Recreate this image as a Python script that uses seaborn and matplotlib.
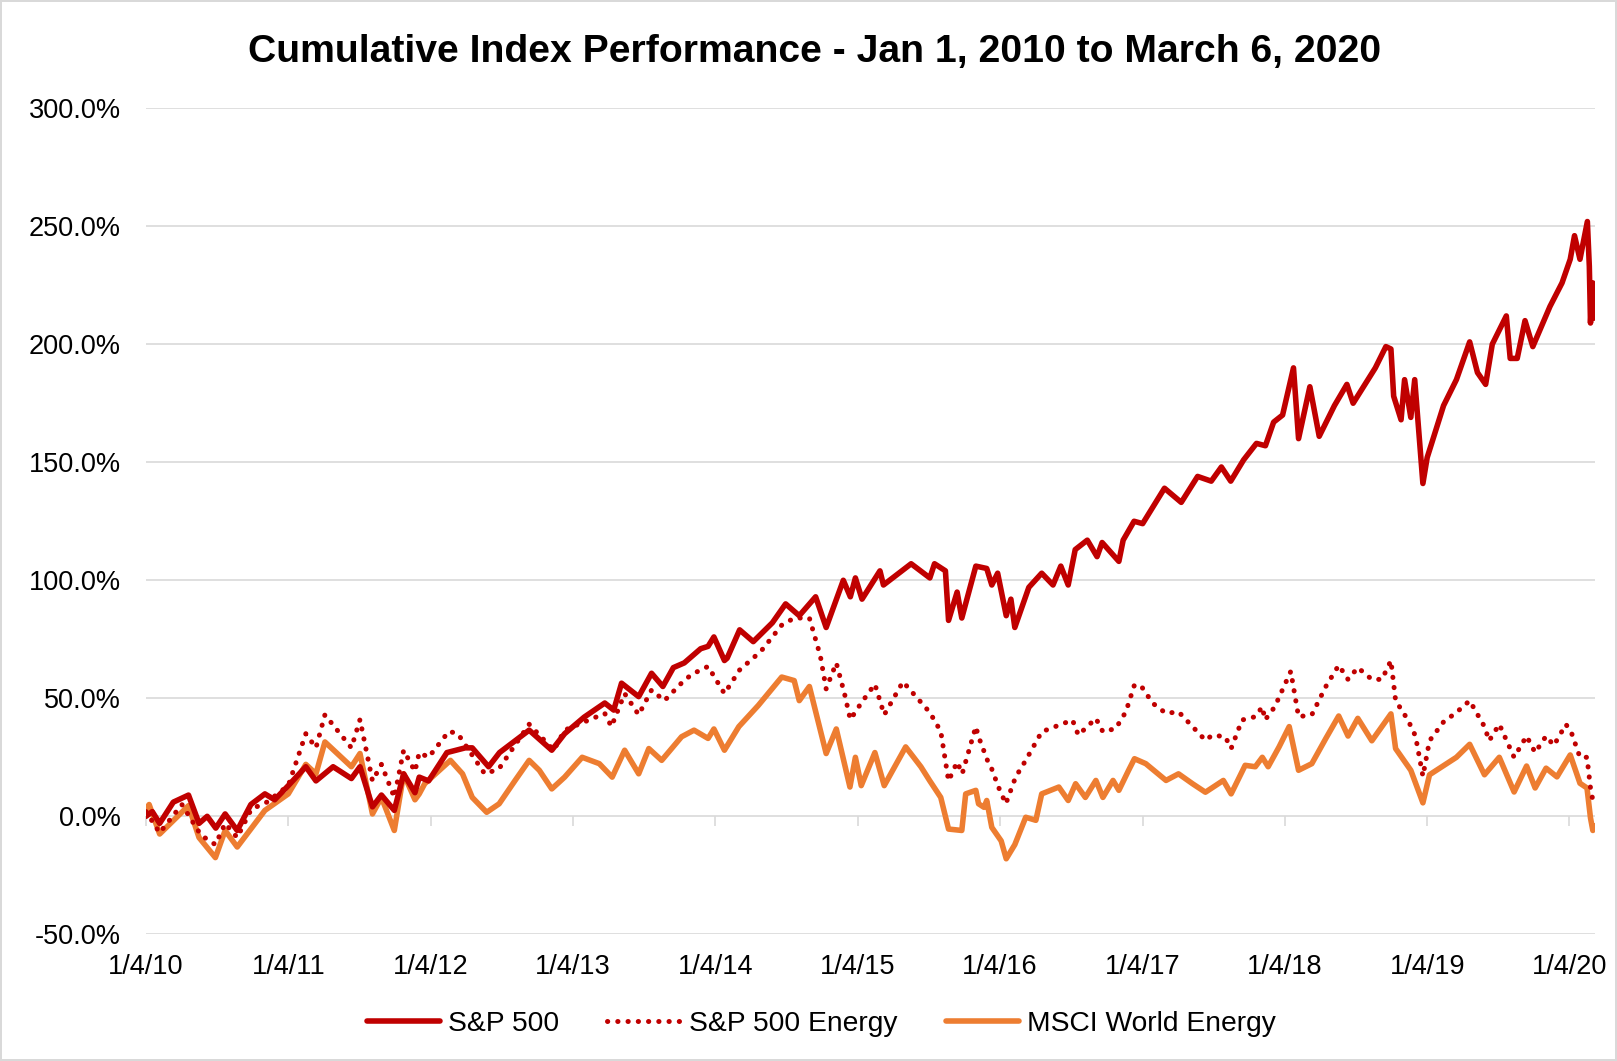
"""
Cumulative index performance, Jan 2010 - Mar 2020 (S&P 500 vs energy indices)
"""

import pandas as pd
import seaborn as sns
import matplotlib
import matplotlib.pyplot as plt
import matplotlib.dates as mdates

matplotlib.use("Agg")

# ---- data (cumulative return, %) ----
sp500_dates = [
    "2010-01-04", "2010-01-20", "2010-02-08", "2010-03-15", "2010-04-23", "2010-05-20",
    "2010-06-10", "2010-07-02", "2010-07-26", "2010-08-26", "2010-09-30", "2010-11-05",
    "2010-11-30", "2011-01-04", "2011-02-18", "2011-03-16", "2011-04-29", "2011-06-15",
    "2011-07-07", "2011-08-08", "2011-08-31", "2011-10-03", "2011-10-27", "2011-11-25",
    "2011-12-06", "2011-12-30", "2012-02-15", "2012-04-02", "2012-04-20", "2012-06-01",
    "2012-06-29", "2012-09-13", "2012-11-10", "2012-12-13", "2013-02-01", "2013-03-26",
    "2013-04-18", "2013-05-08", "2013-06-21", "2013-07-24", "2013-08-22", "2013-09-18",
    "2013-10-16", "2013-11-27", "2013-12-16", "2013-12-31", "2014-01-27", "2014-02-03",
    "2014-03-07", "2014-04-11", "2014-05-30", "2014-07-03", "2014-08-07", "2014-09-18",
    "2014-10-15", "2014-11-28", "2014-12-16", "2014-12-29", "2015-01-15", "2015-03-02",
    "2015-03-11", "2015-05-21", "2015-07-08", "2015-07-20", "2015-08-17", "2015-08-25",
    "2015-09-16", "2015-09-28", "2015-11-03", "2015-12-01", "2015-12-14", "2015-12-29",
    "2016-01-20", "2016-02-01", "2016-02-11", "2016-03-18", "2016-04-20", "2016-05-19",
    "2016-06-08", "2016-06-27", "2016-07-15", "2016-08-15", "2016-09-09", "2016-09-22",
    "2016-11-04", "2016-11-15", "2016-12-13", "2017-01-04", "2017-03-01", "2017-04-13",
    "2017-05-25", "2017-06-29", "2017-07-25", "2017-08-18", "2017-09-20", "2017-10-23",
    "2017-11-15", "2017-12-06", "2017-12-29", "2018-01-26", "2018-02-08", "2018-03-09",
    "2018-04-02", "2018-05-11", "2018-06-12", "2018-06-28", "2018-08-24", "2018-09-20",
    "2018-10-03", "2018-10-10", "2018-10-29", "2018-11-07", "2018-11-23", "2018-12-03",
    "2018-12-24", "2019-01-04", "2019-02-15", "2019-03-20", "2019-04-23", "2019-05-13",
    "2019-06-03", "2019-06-20", "2019-07-26", "2019-08-05", "2019-08-23", "2019-09-12",
    "2019-10-02", "2019-11-15", "2019-12-16", "2020-01-06", "2020-01-17", "2020-01-31",
    "2020-02-19", "2020-02-24", "2020-02-27", "2020-03-02", "2020-03-04", "2020-03-06",
]
sp500_values = [
    0, 2, -3, 6, 9, -3,
    0, -5, 1, -6, 5, 9.5,
    7, 13, 21, 15, 21, 16,
    21, 4, 9, 2.5, 18, 10,
    16.6, 15, 27, 29, 29, 21,
    27, 36.5, 28, 35, 42, 48,
    45, 56.4, 50.7, 60.6, 55, 63,
    65, 71, 72, 76, 66, 67,
    79, 74, 82, 90, 85, 93,
    80, 100, 93, 101, 92, 104,
    98, 107, 101, 107, 104, 83,
    95, 84, 106, 105, 98, 103,
    85, 92, 80, 97, 103, 98,
    106, 98, 113, 117, 110, 116,
    108, 117, 125, 124, 139, 133,
    144, 142, 148, 142, 151, 158,
    157, 167, 170, 190, 160, 182,
    161, 174, 183, 175, 190, 199,
    198, 178, 168, 185, 169, 185,
    141, 152, 174, 185, 201, 188,
    183, 200, 212, 194, 194, 210,
    199, 216, 226, 236, 246, 236,
    252, 233, 209, 222, 226, 211,
]

energy_dates = [
    "2010-01-04", "2010-02-08", "2010-04-06", "2010-05-25", "2010-07-01", "2010-07-26",
    "2010-08-26", "2010-10-01", "2010-11-10", "2011-01-04", "2011-02-18", "2011-03-16",
    "2011-04-08", "2011-06-15", "2011-07-07", "2011-08-08", "2011-08-31", "2011-10-03",
    "2011-10-27", "2011-11-25", "2011-12-06", "2011-12-30", "2012-02-20", "2012-03-14",
    "2012-05-22", "2012-06-27", "2012-09-13", "2012-11-15", "2012-12-13", "2013-03-26",
    "2013-04-12", "2013-05-16", "2013-06-21", "2013-07-24", "2013-08-26", "2013-10-18",
    "2013-11-10", "2013-12-16", "2014-01-27", "2014-03-07", "2014-05-01", "2014-06-23",
    "2014-07-25", "2014-09-02", "2014-09-30", "2014-10-15", "2014-11-10", "2014-12-01",
    "2014-12-16", "2015-01-13", "2015-02-17", "2015-03-13", "2015-04-30", "2015-06-01",
    "2015-07-08", "2015-08-05", "2015-08-25", "2015-09-16", "2015-09-29", "2015-11-03",
    "2015-11-10", "2015-12-06", "2015-12-14", "2015-12-31", "2016-01-19", "2016-02-13",
    "2016-03-10", "2016-04-20", "2016-06-03", "2016-07-08", "2016-07-23", "2016-09-06",
    "2016-09-24", "2016-10-27", "2016-11-22", "2016-12-14", "2017-01-01", "2017-01-30",
    "2017-03-05", "2017-04-06", "2017-05-12", "2017-06-14", "2017-07-02", "2017-08-04",
    "2017-08-19", "2017-09-16", "2017-10-20", "2017-11-07", "2017-11-14", "2017-12-09",
    "2018-01-19", "2018-02-08", "2018-03-14", "2018-04-19", "2018-05-22", "2018-06-15",
    "2018-07-10", "2018-08-15", "2018-09-10", "2018-10-03", "2018-10-15", "2018-11-15",
    "2018-12-05", "2018-12-24", "2019-01-10", "2019-02-15", "2019-03-20", "2019-04-23",
    "2019-05-31", "2019-06-12", "2019-07-08", "2019-08-15", "2019-09-16", "2019-10-08",
    "2019-11-05", "2019-11-25", "2019-12-26", "2020-01-10", "2020-01-31", "2020-02-18",
    "2020-02-27", "2020-03-06",
]
energy_values = [
    2, -7, 5, -8, -12, -3,
    -9, 3, 6, 13, 35, 29,
    43, 29, 41, 15, 22, 8,
    28, 19, 27, 25, 36, 35,
    18, 20, 39, 28, 36.5, 43.6,
    38, 52, 43, 53.5, 49, 58,
    60.6, 63.5, 52, 62, 70, 81,
    84, 84, 68, 54, 65, 52,
    41, 48, 56, 43, 57, 51,
    44, 36, 15, 23, 18, 38,
    33.7, 22.3, 20, 12.4, 5.3, 16.6,
    23.7, 35.8, 38.6, 40.8, 34.4, 41.5,
    35.8, 37.2, 44.3, 55.7, 55, 47.9,
    43.6, 44.3, 38, 32.2, 34.4, 33.7,
    28.7, 40.8, 42.2, 46.4, 40.8, 46.4,
    61.4, 42.2, 43, 55, 64, 58,
    63, 58, 58, 66, 49, 41,
    34, 17, 32, 40, 44, 49,
    38, 32, 39, 25, 34, 27,
    34, 30, 39, 35, 25, 25,
    12, 5,
]

msci_dates = [
    "2010-01-04", "2010-01-12", "2010-02-08", "2010-04-23", "2010-05-20", "2010-07-01",
    "2010-07-26", "2010-08-26", "2010-11-05", "2011-01-04", "2011-02-18", "2011-03-16",
    "2011-04-08", "2011-06-15", "2011-07-07", "2011-08-08", "2011-08-31", "2011-10-03",
    "2011-10-27", "2011-11-25", "2011-12-06", "2011-12-20", "2012-02-24", "2012-03-26",
    "2012-04-20", "2012-05-27", "2012-06-28", "2012-08-08", "2012-09-13", "2012-10-09",
    "2012-11-10", "2012-12-13", "2013-01-27", "2013-03-12", "2013-04-14", "2013-05-16",
    "2013-06-21", "2013-07-17", "2013-08-19", "2013-10-09", "2013-11-10", "2013-12-16",
    "2013-12-31", "2014-01-27", "2014-03-05", "2014-04-24", "2014-06-23", "2014-07-25",
    "2014-08-07", "2014-09-02", "2014-10-15", "2014-11-10", "2014-12-15", "2014-12-29",
    "2015-01-13", "2015-02-17", "2015-03-13", "2015-05-07", "2015-06-15", "2015-07-08",
    "2015-08-05", "2015-08-25", "2015-09-28", "2015-10-08", "2015-11-03", "2015-11-10",
    "2015-11-24", "2015-12-01", "2015-12-14", "2016-01-07", "2016-01-20", "2016-02-11",
    "2016-03-10", "2016-04-05", "2016-04-20", "2016-06-03", "2016-06-27", "2016-07-16",
    "2016-08-10", "2016-09-06", "2016-09-24", "2016-10-20", "2016-11-04", "2016-11-29",
    "2016-12-14", "2017-01-12", "2017-03-05", "2017-04-06", "2017-05-12", "2017-06-14",
    "2017-07-30", "2017-08-19", "2017-09-24", "2017-10-20", "2017-11-07", "2017-11-22",
    "2017-12-20", "2018-01-15", "2018-02-08", "2018-03-14", "2018-04-19", "2018-05-22",
    "2018-06-15", "2018-07-10", "2018-08-15", "2018-10-03", "2018-10-15", "2018-11-23",
    "2018-12-24", "2019-01-10", "2019-03-20", "2019-04-23", "2019-05-31", "2019-07-08",
    "2019-08-15", "2019-09-16", "2019-10-08", "2019-11-05", "2019-12-03", "2020-01-06",
    "2020-01-31", "2020-02-18", "2020-02-27", "2020-03-04", "2020-03-06",
]
msci_values = [
    3, 5, -7.5, 4.5, -9, -17.5,
    -6, -13, 2.5, 9.5, 22, 18,
    31.5, 21, 26.6, 1, 8, -6,
    18, 7, 9.5, 13.8, 23.7, 18,
    8, 1.7, 5.3, 15.2, 23.7, 19.5,
    11.6, 16.6, 25, 22.3, 16.6, 28,
    18, 28.7, 23.7, 33.7, 36.5, 33,
    37, 28, 38, 47, 59, 57.5,
    49, 55, 26.6, 37, 12.4, 25,
    13, 27, 13, 29.4, 21, 15,
    8, -5.4, -6, 9.5, 11, 5.3,
    3.8, 6.7, -4.7, -10.4, -18, -12,
    -0.4, -1.7, 9.5, 12.4, 6.7, 13.8,
    8, 15.2, 8, 15.2, 11, 19.5,
    24.4, 22.3, 15.2, 18, 13.8, 10.2,
    15.2, 9.5, 21.6, 21, 25, 21,
    29.4, 38, 19.5, 22.3, 33, 42.5,
    34, 41.5, 32, 43.4, 28.7, 19.5,
    5.7, 17.6, 25, 30.5, 17.6, 25,
    10.3, 21.3, 12, 20.4, 16.7, 26,
    14, 12, -0.7, -6, -4,
]

tick_dates = ["2010-01-04", "2011-01-04", "2012-01-04", "2013-01-04", "2014-01-04",
              "2015-01-04", "2016-01-04", "2017-01-04", "2018-01-04", "2019-01-04",
              "2020-01-04"]
tick_labels = ["1/4/10", "1/4/11", "1/4/12", "1/4/13", "1/4/14", "1/4/15",
               "1/4/16", "1/4/17", "1/4/18", "1/4/19", "1/4/20"]
y_ticks = [-50, 0, 50, 100, 150, 200, 250, 300]

# ---- styling ----
sns.set_style("white")
plt.rcParams["font.family"] = ["Liberation Sans", "DejaVu Sans"]
plt.rcParams["text.color"] = "black"
plt.rcParams["xtick.color"] = "black"
plt.rcParams["ytick.color"] = "black"

RED = "#C00000"
ORANGE = "#ED7D31"
GRID = "#D9D9D9"

fig = plt.figure(figsize=(16.17, 10.61), dpi=100)
fig.patch.set_edgecolor(GRID)
fig.patch.set_linewidth(1.5)
ax = fig.add_axes([0.0903, 0.1194, 0.8962, 0.7786])

sp_df = pd.DataFrame({"date": pd.to_datetime(sp500_dates), "value": sp500_values})
en_df = pd.DataFrame({"date": pd.to_datetime(energy_dates), "value": energy_values})
ms_df = pd.DataFrame({"date": pd.to_datetime(msci_dates), "value": msci_values})

sns.lineplot(data=sp_df, x="date", y="value", ax=ax, color=RED, linewidth=4.0,
             label="S&P 500", zorder=3)
sns.lineplot(data=en_df, x="date", y="value", ax=ax, color=RED, linewidth=3.6,
             linestyle=(0, (0.05, 2.0)), dash_capstyle="round", label="S&P 500 Energy",
             zorder=4)
sns.lineplot(data=ms_df, x="date", y="value", ax=ax, color=ORANGE, linewidth=4.0,
             label="MSCI World Energy", zorder=2)

ax.set_xlim(pd.Timestamp("2010-01-04"), pd.Timestamp("2020-03-10"))
ax.set_ylim(-50, 300)
ax.set_yticks(y_ticks)
ax.set_yticklabels([f"{v:.1f}%" for v in y_ticks])
ax.set_xticks(pd.to_datetime(tick_dates))
ax.set_xticklabels(tick_labels)
ax.set_xlabel("")
ax.set_ylabel("")

ax.grid(axis="y", color=GRID, linewidth=1.2)
ax.grid(axis="x", visible=False)
for side in ["left", "right", "top", "bottom"]:
    ax.spines[side].set_visible(False)
ax.tick_params(axis="y", length=0, pad=18, labelsize=19.5)
ax.tick_params(axis="x", length=0, pad=14, labelsize=19.5)

# small tick marks hanging from the 0% line, as in the source chart
secax = ax.secondary_xaxis(50 / 350)
secax.set_xticks(mdates.date2num(pd.to_datetime(tick_dates)))
secax.tick_params(axis="x", length=7, width=1.2, color=GRID, labelbottom=False,
                  labeltop=False)
for side in ["left", "right", "top", "bottom"]:
    secax.spines[side].set_visible(False)

ax.get_legend().remove()
handles, labels = ax.get_legend_handles_labels()
fig.legend(handles, labels, loc="center", bbox_to_anchor=(0.508, 0.035), ncol=3,
           frameon=False, fontsize=20.3, handlelength=2.6, handletextpad=0.3,
           columnspacing=1.7)

fig.text(0.504, 0.951, "Cumulative Index Performance - Jan 1, 2010 to March 6, 2020",
         ha="center", va="center", fontsize=28.2, fontweight="bold", color="black")

fig.savefig("out.png", dpi=100, facecolor="white", edgecolor=fig.get_edgecolor())
